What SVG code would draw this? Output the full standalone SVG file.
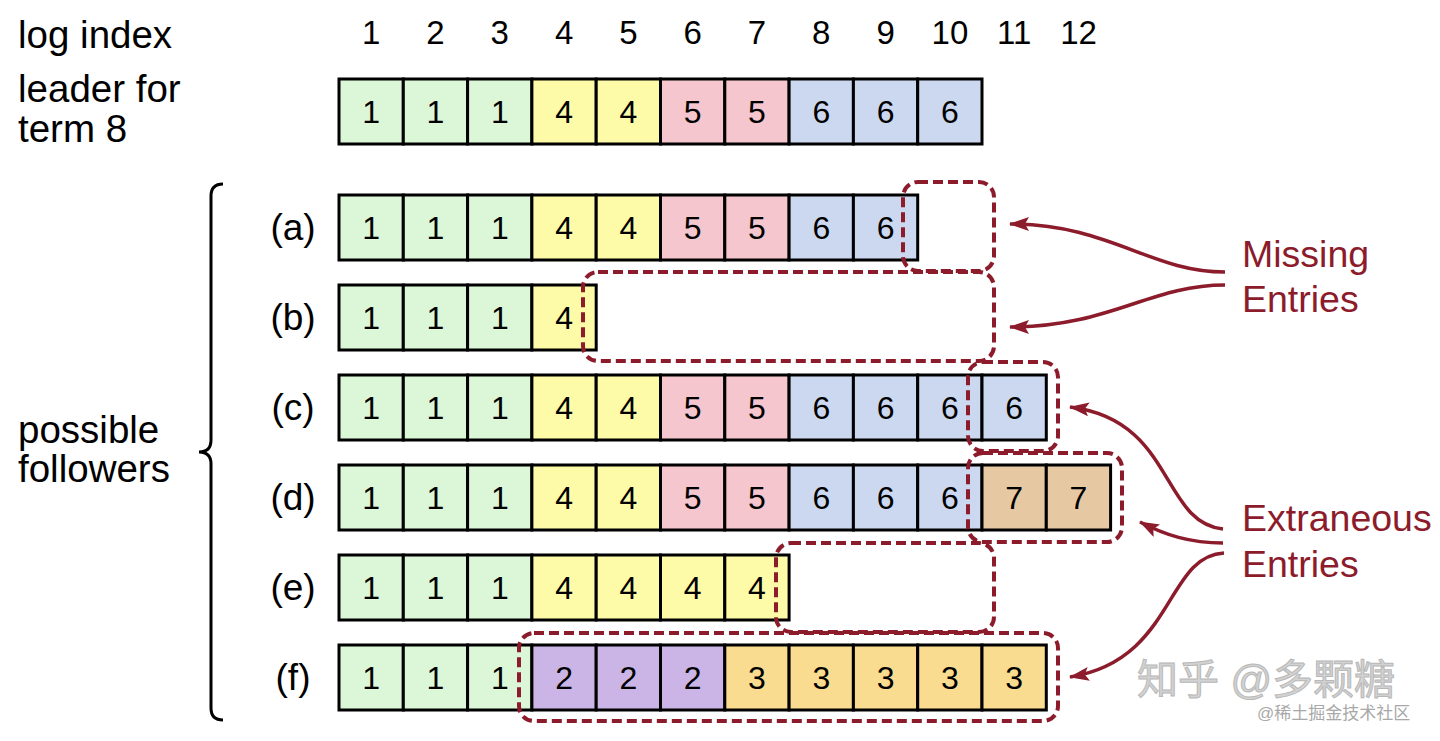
<svg xmlns="http://www.w3.org/2000/svg" width="1440" height="741" viewBox="0 0 1440 741">
<style>
text{font-family:"Liberation Sans",Arial,sans-serif;fill:#000}
.lbl{font-size:38.5px}
.idx{font-size:33px;text-anchor:middle}
.num{font-size:32px;text-anchor:middle}
.row{font-size:37px;text-anchor:middle}
.cell{stroke:#000;stroke-width:3}
.g{fill:#dcf7d8}.y{fill:#fdfaa8}.p{fill:#f5c6cd}.b{fill:#cbd8ef}.t{fill:#e6c9a3}.v{fill:#cbb5e6}.o{fill:#f9dc8f}
.box{fill:none;stroke:#8c1c2b;stroke-width:4;stroke-dasharray:10 5}
.arr{fill:none;stroke:#8c1c2b;stroke-width:3.5;marker-end:url(#ah)}
.red{font-size:37.5px;fill:#8c1c2b}
</style>
<defs>
<marker id="ah" viewBox="0 0 20 14" refX="19" refY="7" markerWidth="20" markerHeight="14" markerUnits="userSpaceOnUse" orient="auto">
<path d="M0,0 L20,7 L0,14 L4,7 z" fill="#8c1c2b"/>
</marker>
</defs>
<rect width="1440" height="741" fill="#fff"/>

<g id="labels">
<text class="lbl" x="18" y="48">log index</text>
<text class="lbl" x="18" y="102">leader for</text>
<text class="lbl" x="18" y="142">term 8</text>
<text class="lbl" x="18" y="443">possible</text>
<text class="lbl" x="18" y="482">followers</text>
<text class="idx" x="371.2" y="44">1</text>
<text class="idx" x="435.5" y="44">2</text>
<text class="idx" x="499.8" y="44">3</text>
<text class="idx" x="564.1" y="44">4</text>
<text class="idx" x="628.4" y="44">5</text>
<text class="idx" x="692.7" y="44">6</text>
<text class="idx" x="757" y="44">7</text>
<text class="idx" x="821.3" y="44">8</text>
<text class="idx" x="885.6" y="44">9</text>
<text class="idx" x="949.9" y="44">10</text>
<text class="idx" x="1014.2" y="44">11</text>
<text class="idx" x="1078.5" y="44">12</text>
<text class="row" x="293" y="240">(a)</text>
<text class="row" x="293" y="330">(b)</text>
<text class="row" x="293" y="420">(c)</text>
<text class="row" x="293" y="510">(d)</text>
<text class="row" x="293" y="600">(e)</text>
<text class="row" x="293" y="690">(f)</text>
</g>

<g id="brace">
<path d="M223,184 Q211,184 211,196 L211,440 Q211,452 199,452 Q211,452 211,464 L211,708 Q211,720 223,720" fill="none" stroke="#000" stroke-width="3"/>
</g>

<g id="leader">
<rect class="cell g" x="339" y="79" width="64.3" height="65"/>
<rect class="cell g" x="403.3" y="79" width="64.3" height="65"/>
<rect class="cell g" x="467.6" y="79" width="64.3" height="65"/>
<rect class="cell y" x="531.9" y="79" width="64.3" height="65"/>
<rect class="cell y" x="596.2" y="79" width="64.3" height="65"/>
<rect class="cell p" x="660.5" y="79" width="64.3" height="65"/>
<rect class="cell p" x="724.8" y="79" width="64.3" height="65"/>
<rect class="cell b" x="789.1" y="79" width="64.3" height="65"/>
<rect class="cell b" x="853.4" y="79" width="64.3" height="65"/>
<rect class="cell b" x="917.7" y="79" width="64.3" height="65"/>
<text class="num" x="371.2" y="123">1</text><text class="num" x="435.5" y="123">1</text><text class="num" x="499.8" y="123">1</text><text class="num" x="564.1" y="123">4</text><text class="num" x="628.4" y="123">4</text><text class="num" x="692.7" y="123">5</text><text class="num" x="757" y="123">5</text><text class="num" x="821.3" y="123">6</text><text class="num" x="885.6" y="123">6</text><text class="num" x="949.9" y="123">6</text>
</g>

<g id="row-a">
<rect class="cell g" x="339" y="195" width="64.3" height="65"/>
<rect class="cell g" x="403.3" y="195" width="64.3" height="65"/>
<rect class="cell g" x="467.6" y="195" width="64.3" height="65"/>
<rect class="cell y" x="531.9" y="195" width="64.3" height="65"/>
<rect class="cell y" x="596.2" y="195" width="64.3" height="65"/>
<rect class="cell p" x="660.5" y="195" width="64.3" height="65"/>
<rect class="cell p" x="724.8" y="195" width="64.3" height="65"/>
<rect class="cell b" x="789.1" y="195" width="64.3" height="65"/>
<rect class="cell b" x="853.4" y="195" width="64.3" height="65"/>
<text class="num" x="371.2" y="239">1</text><text class="num" x="435.5" y="239">1</text><text class="num" x="499.8" y="239">1</text><text class="num" x="564.1" y="239">4</text><text class="num" x="628.4" y="239">4</text><text class="num" x="692.7" y="239">5</text><text class="num" x="757" y="239">5</text><text class="num" x="821.3" y="239">6</text><text class="num" x="885.6" y="239">6</text>
</g>

<g id="row-b">
<rect class="cell g" x="339" y="285" width="64.3" height="65"/>
<rect class="cell g" x="403.3" y="285" width="64.3" height="65"/>
<rect class="cell g" x="467.6" y="285" width="64.3" height="65"/>
<rect class="cell y" x="531.9" y="285" width="64.3" height="65"/>
<text class="num" x="371.2" y="329">1</text><text class="num" x="435.5" y="329">1</text><text class="num" x="499.8" y="329">1</text><text class="num" x="564.1" y="329">4</text>
</g>

<g id="row-c">
<rect class="cell g" x="339" y="375" width="64.3" height="65"/>
<rect class="cell g" x="403.3" y="375" width="64.3" height="65"/>
<rect class="cell g" x="467.6" y="375" width="64.3" height="65"/>
<rect class="cell y" x="531.9" y="375" width="64.3" height="65"/>
<rect class="cell y" x="596.2" y="375" width="64.3" height="65"/>
<rect class="cell p" x="660.5" y="375" width="64.3" height="65"/>
<rect class="cell p" x="724.8" y="375" width="64.3" height="65"/>
<rect class="cell b" x="789.1" y="375" width="64.3" height="65"/>
<rect class="cell b" x="853.4" y="375" width="64.3" height="65"/>
<rect class="cell b" x="917.7" y="375" width="64.3" height="65"/>
<rect class="cell b" x="982" y="375" width="64.3" height="65"/>
<text class="num" x="371.2" y="419">1</text><text class="num" x="435.5" y="419">1</text><text class="num" x="499.8" y="419">1</text><text class="num" x="564.1" y="419">4</text><text class="num" x="628.4" y="419">4</text><text class="num" x="692.7" y="419">5</text><text class="num" x="757" y="419">5</text><text class="num" x="821.3" y="419">6</text><text class="num" x="885.6" y="419">6</text><text class="num" x="949.9" y="419">6</text><text class="num" x="1014.2" y="419">6</text>
</g>

<g id="row-d">
<rect class="cell g" x="339" y="465" width="64.3" height="65"/>
<rect class="cell g" x="403.3" y="465" width="64.3" height="65"/>
<rect class="cell g" x="467.6" y="465" width="64.3" height="65"/>
<rect class="cell y" x="531.9" y="465" width="64.3" height="65"/>
<rect class="cell y" x="596.2" y="465" width="64.3" height="65"/>
<rect class="cell p" x="660.5" y="465" width="64.3" height="65"/>
<rect class="cell p" x="724.8" y="465" width="64.3" height="65"/>
<rect class="cell b" x="789.1" y="465" width="64.3" height="65"/>
<rect class="cell b" x="853.4" y="465" width="64.3" height="65"/>
<rect class="cell b" x="917.7" y="465" width="64.3" height="65"/>
<rect class="cell t" x="982" y="465" width="64.3" height="65"/>
<rect class="cell t" x="1046.3" y="465" width="64.3" height="65"/>
<text class="num" x="371.2" y="509">1</text><text class="num" x="435.5" y="509">1</text><text class="num" x="499.8" y="509">1</text><text class="num" x="564.1" y="509">4</text><text class="num" x="628.4" y="509">4</text><text class="num" x="692.7" y="509">5</text><text class="num" x="757" y="509">5</text><text class="num" x="821.3" y="509">6</text><text class="num" x="885.6" y="509">6</text><text class="num" x="949.9" y="509">6</text><text class="num" x="1014.2" y="509">7</text><text class="num" x="1078.5" y="509">7</text>
</g>

<g id="row-e">
<rect class="cell g" x="339" y="555" width="64.3" height="65"/>
<rect class="cell g" x="403.3" y="555" width="64.3" height="65"/>
<rect class="cell g" x="467.6" y="555" width="64.3" height="65"/>
<rect class="cell y" x="531.9" y="555" width="64.3" height="65"/>
<rect class="cell y" x="596.2" y="555" width="64.3" height="65"/>
<rect class="cell y" x="660.5" y="555" width="64.3" height="65"/>
<rect class="cell y" x="724.8" y="555" width="64.3" height="65"/>
<text class="num" x="371.2" y="599">1</text><text class="num" x="435.5" y="599">1</text><text class="num" x="499.8" y="599">1</text><text class="num" x="564.1" y="599">4</text><text class="num" x="628.4" y="599">4</text><text class="num" x="692.7" y="599">4</text><text class="num" x="757" y="599">4</text>
</g>

<g id="row-f">
<rect class="cell g" x="339" y="645" width="64.3" height="65"/>
<rect class="cell g" x="403.3" y="645" width="64.3" height="65"/>
<rect class="cell g" x="467.6" y="645" width="64.3" height="65"/>
<rect class="cell v" x="531.9" y="645" width="64.3" height="65"/>
<rect class="cell v" x="596.2" y="645" width="64.3" height="65"/>
<rect class="cell v" x="660.5" y="645" width="64.3" height="65"/>
<rect class="cell o" x="724.8" y="645" width="64.3" height="65"/>
<rect class="cell o" x="789.1" y="645" width="64.3" height="65"/>
<rect class="cell o" x="853.4" y="645" width="64.3" height="65"/>
<rect class="cell o" x="917.7" y="645" width="64.3" height="65"/>
<rect class="cell o" x="982" y="645" width="64.3" height="65"/>
<text class="num" x="371.2" y="689">1</text><text class="num" x="435.5" y="689">1</text><text class="num" x="499.8" y="689">1</text><text class="num" x="564.1" y="689">2</text><text class="num" x="628.4" y="689">2</text><text class="num" x="692.7" y="689">2</text><text class="num" x="757" y="689">3</text><text class="num" x="821.3" y="689">3</text><text class="num" x="885.6" y="689">3</text><text class="num" x="949.9" y="689">3</text><text class="num" x="1014.2" y="689">3</text>
</g>

<g id="highlights">
<rect class="box" x="903" y="182" width="91" height="89" rx="15"/>
<rect class="box" x="583" y="272" width="411" height="89" rx="15"/>
<rect class="box" x="968" y="362" width="90" height="89" rx="15"/>
<rect class="box" x="968" y="453" width="154" height="89" rx="15"/>
<rect class="box" x="776" y="543" width="218" height="89" rx="15"/>
<rect class="box" x="519" y="633" width="539" height="88" rx="15"/>
</g>

<g id="connectors">
<path class="arr" d="M1225,272 C1150,272 1110,224 1010,224"/>
<path class="arr" d="M1225,285 C1150,285 1110,327 1010,327"/>
<path class="arr" d="M1223,529 C1160,522 1175,420 1070,407"/>
<path class="arr" d="M1223,543 C1190,543 1165,535 1140,522"/>
<path class="arr" d="M1224,553 C1165,556 1175,660 1070,677"/>
</g>

<g id="callouts">
<text class="red" x="1242" y="267">Missing</text>
<text class="red" x="1242" y="312">Entries</text>
<text class="red" x="1242" y="531">Extraneous</text>
<text class="red" x="1242" y="577">Entries</text>
</g>

<g id="watermark">
<text x="1137" y="694" style="font-family:'Liberation Sans','Noto Sans CJK SC',sans-serif;font-size:41px;fill:#d2d2d2;stroke:#b8b8b8;stroke-width:1">知乎 @多颗糖</text>
<text x="1257" y="719" style="font-family:'Liberation Sans','Noto Sans CJK SC',sans-serif;font-size:17px;fill:#a8a8a8">@稀土掘金技术社区</text>
</g>
</svg>
